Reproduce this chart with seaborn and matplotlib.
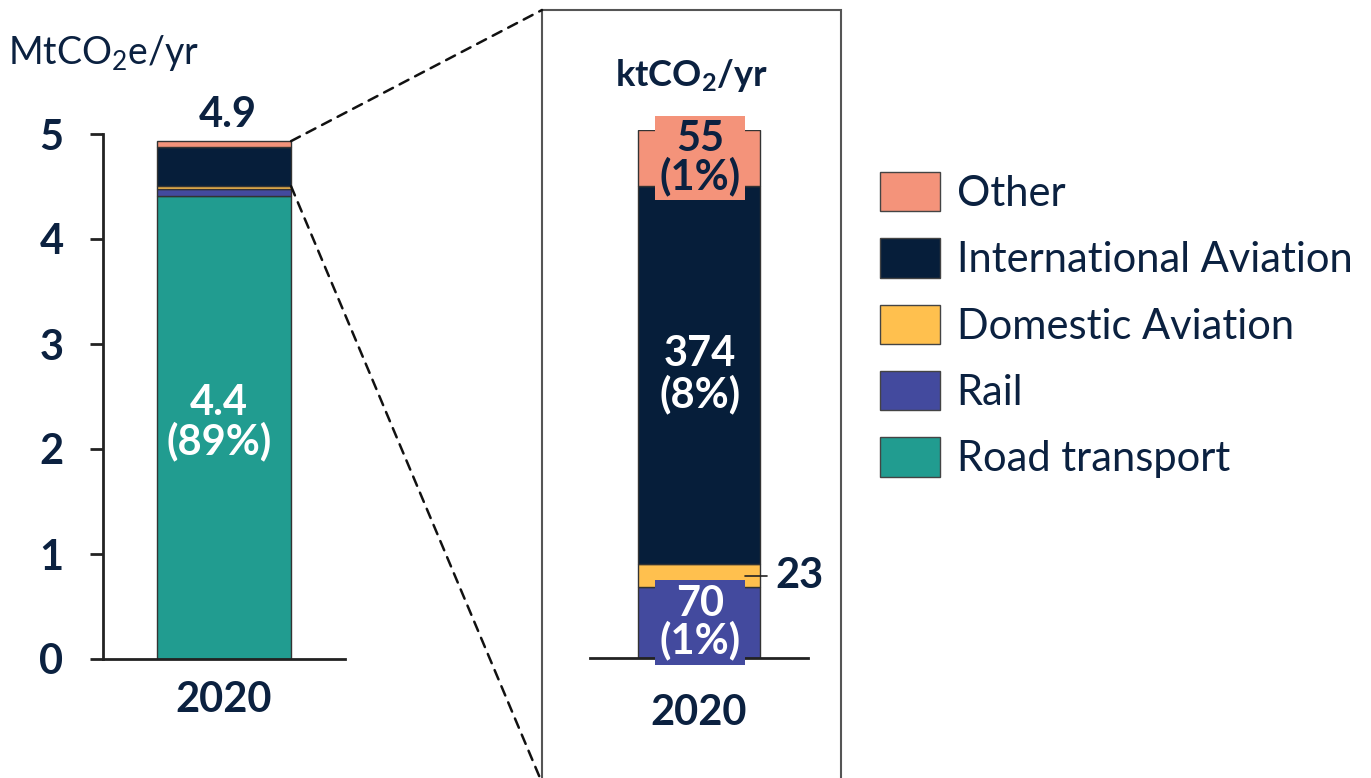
import matplotlib
matplotlib.use("Agg")
import matplotlib.pyplot as plt
import seaborn as sns
import pandas as pd
import numpy as np
from matplotlib.patches import Rectangle, Patch, ConnectionPatch

sns.set_theme(style="white")
FONT = "Lato"
plt.rcParams["font.family"] = [FONT, "DejaVu Sans"]
plt.rcParams["mathtext.fontset"] = "custom"
plt.rcParams["mathtext.rm"] = FONT
plt.rcParams["mathtext.bf"] = FONT + ":bold"
plt.rcParams["mathtext.it"] = FONT + ":italic"

# ---- data ----
year = ["2020"]
categories = ["Road transport", "Rail", "Domestic Aviation", "International Aviation", "Other"]
values_mt = [4.41, 0.070, 0.023, 0.374, 0.055]          # MtCO2e/yr
colors = ["#219C90", "#434A9E", "#FFC04E", "#061E3A", "#F4937A"]
zoom_categories = ["Rail", "Domestic Aviation", "International Aviation", "Other"]
zoom_values_kt = [70, 23, 374, 55]                      # ktCO2/yr
yticks = [0, 1, 2, 3, 4, 5]

TXT = "#0B2140"
EDGE = "#333333"
FS = 30
W, H = 1371, 778
fig = plt.figure(figsize=(W / 100, H / 100), dpi=100)

def fr(x0, y0, x1, y1):
    return [x0 / W, 1 - y1 / H, (x1 - x0) / W, (y1 - y0) / H]

total_mt = sum(values_mt)

# ---- left panel ----
ax1 = fig.add_axes(fr(103, 134, 345, 659))
bottom = 0.0
for cat, val, col in zip(categories, values_mt, colors):
    df = pd.DataFrame({"year": year, "value": [val]})
    sns.barplot(data=df, x="year", y="value", color=col, width=0.554,
                bottom=bottom, edgecolor=EDGE, linewidth=1, saturation=1, ax=ax1)
    bottom += val
ax1.set_xlim(-0.5, 0.5)
ax1.set_ylim(0, 5)
ax1.set_yticks(yticks)
ax1.set_xlabel("")
ax1.set_ylabel("")
for s in ["top", "right"]:
    ax1.spines[s].set_visible(False)
for s in ["left", "bottom"]:
    ax1.spines[s].set_color("#222222")
    ax1.spines[s].set_linewidth(2)
ax1.tick_params(axis="y", length=9.5, width=2, color="#222222", pad=19,
                labelsize=FS, labelcolor=TXT, left=True)
ax1.tick_params(axis="x", length=0, pad=16, labelsize=FS, labelcolor=TXT)
for lab in ax1.get_yticklabels() + ax1.get_xticklabels():
    lab.set_fontweight("bold")

ax1.annotate(f"{total_mt:.1f}", xy=(0, total_mt), xytext=(3, 5), textcoords="offset points",
             ha="center", va="bottom", fontsize=FS, fontweight="bold", color=TXT)
road_pct = values_mt[0] / total_mt * 100
ax1.text(-0.02, 2.25, f"{values_mt[0]:.1f}\n({road_pct:.0f}%)", ha="center", va="center",
         fontsize=FS, fontweight="bold", color="white", linespacing=1.0)

fig.text(8 / W, 1 - 53 / H, r"MtCO$_2$e/yr", ha="left", va="center", fontsize=27, color=TXT)

# ---- right (zoom) panel ----
ax2 = fig.add_axes(fr(590, 130, 808, 658))
zcols = colors[1:]
bottom = 0.0
mids = []
for cat, val, col in zip(zoom_categories, zoom_values_kt, zcols):
    df = pd.DataFrame({"year": year, "value": [val]})
    sns.barplot(data=df, x="year", y="value", color=col, width=0.56,
                bottom=bottom, edgecolor=EDGE, linewidth=1, saturation=1, ax=ax2)
    mids.append(bottom + val / 2)
    bottom += val
ax2.set_xlim(-0.5, 0.5)
ax2.set_ylim(0, sum(zoom_values_kt))
ax2.set_xlabel("")
ax2.set_ylabel("")
ax2.set_yticks([])
for s in ["top", "right", "left"]:
    ax2.spines[s].set_visible(False)
ax2.spines["bottom"].set_color("#222222")
ax2.spines["bottom"].set_linewidth(2)
ax2.tick_params(axis="x", length=0, pad=26, labelsize=FS, labelcolor=TXT)
for lab in ax2.get_xticklabels():
    lab.set_fontweight("bold")

total_kt = total_mt * 1000
def pct(v):
    return f"({v / total_kt * 100:.0f}%)"

bb = dict(boxstyle="square,pad=0.1")
# Rail
ax2.text(0.005, mids[0], f"{zoom_values_kt[0]}\n{pct(zoom_values_kt[0])}", ha="center", va="center",
         fontsize=FS, fontweight="bold", color="white", linespacing=0.95,
         bbox=dict(bb, fc=zcols[0], ec="none"))
# Domestic
ax2.plot([0.211, 0.312], [mids[1], mids[1]], color="#222222", lw=1.2, clip_on=False)
ax2.text(0.35, mids[1], f"{zoom_values_kt[1]}", ha="left", va="center",
         fontsize=FS, fontweight="bold", color=TXT)
# International
ax2.text(0.005, mids[2], f"{zoom_values_kt[2]}\n{pct(zoom_values_kt[2])}", ha="center", va="center",
         fontsize=FS, fontweight="bold", color="white", linespacing=1.05)
# Other
ax2.text(0.005, mids[3], f"{zoom_values_kt[3]}\n{pct(zoom_values_kt[3])}", ha="center", va="center",
         fontsize=FS, fontweight="bold", color=TXT, linespacing=0.95,
         bbox=dict(bb, fc=zcols[3], ec="none"))

fig.text(692 / W, 1 - 76 / H, r"ktCO$_\mathbf{2}$/yr", ha="center", va="center",
         fontsize=26, fontweight="bold", color=TXT)

# frame around zoom
fig.add_artist(Rectangle((542 / W, -0.05), (841 - 542) / W, 1 - 10 / H + 0.05,
                         transform=fig.transFigure, fill=False, ec="#555555", lw=1.5))

# dashed connectors
bar_right = 0.554 / 2
con1 = ConnectionPatch(xyA=(bar_right, total_mt), coordsA=ax1.transData,
                       xyB=(542 / W, 1 - 10 / H), coordsB=fig.transFigure,
                       ls=(0, (4, 3)), color="#111111", lw=1.8)
fig.add_artist(con1)
y_low = sum(values_mt[:3])
con2 = ConnectionPatch(xyA=(bar_right, y_low), coordsA=ax1.transData,
                       xyB=(540 / W, 0.0), coordsB=fig.transFigure,
                       ls=(0, (4, 3)), color="#111111", lw=1.8)
fig.add_artist(con2)

# legend
handles = [Patch(facecolor=c, edgecolor="#444444", lw=1, label=l)
           for l, c in zip(categories[::-1], colors[::-1])]
fig.legend(handles=handles, loc="upper left", bbox_to_anchor=(880 / W, 1 - 172 / H),
           frameon=False, fontsize=FS, handlelength=1.44, handleheight=1.08,
           handletextpad=0.4, labelspacing=0.61, borderpad=0, borderaxespad=0,
           labelcolor=TXT)

fig.savefig("out.png", dpi=100)
